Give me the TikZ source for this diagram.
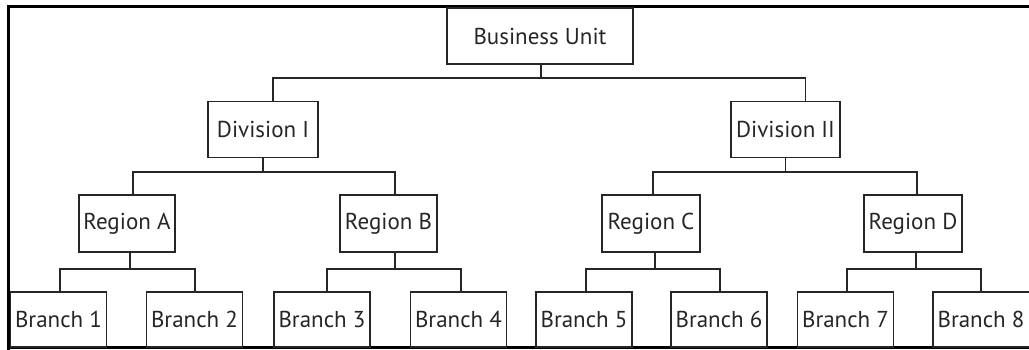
\documentclass[tikz,border=0pt]{standalone}
\usepackage{fontspec}
\setmainfont{PT Sans}
\begin{document}
\begin{tikzpicture}[x=1pt,y=-1pt,
  unitbox/.style={draw=black!85, line width=1.8pt, inner sep=0pt, align=center,
    font=\fontsize{23}{26}\selectfont, text=black!85},
  link/.style={draw=black!85, line width=1.8pt}]
\useasboundingbox[fill=white] (0,0) rectangle (1029,350);

% outer frame (left, top, bottom)
\draw[line width=3.2pt] (8.5,350) -- (8.5,6.5) -- (1029,6.5);
\draw[line width=3pt] (8.5,347) -- (1029,347);

% boxes
\node[unitbox, minimum width=186pt, minimum height=56pt] (bu) at (540,36) {Business Unit};
\node[unitbox, minimum width=110pt, minimum height=56pt] (d1) at (263,129.5) {Division I};
\node[unitbox, minimum width=109pt, minimum height=56pt] (d2) at (785.5,129.5) {Division II};

\node[unitbox, minimum width=96pt, minimum height=57pt] (ra) at (127,223.5) {Region A};
\node[unitbox, minimum width=97pt, minimum height=57pt] (rb) at (388.5,223.5) {Region B};
\node[unitbox, minimum width=98pt, minimum height=57pt] (rc) at (651,223.5) {Region C};
\node[unitbox, minimum width=98pt, minimum height=57pt] (rd) at (913,223.5) {Region D};

\foreach \n/\cx in {1/58.5, 2/194.5, 3/322, 4/458.5, 5/584, 6/719, 7/845.5}
  \node[unitbox, minimum width=96pt, minimum height=55pt] (b\n) at (\cx,319.5) {Branch \n};
% the last branch runs past the right edge of the sheet
\node[unitbox, minimum width=104pt, minimum height=55pt] (b8) at (985,319.5)
  {\makebox[96pt]{Branch 8}\hspace*{8pt}};

% connectors: business unit to divisions
\coordinate (j0) at ([xshift=1pt]bu.south |- 0,78);
\draw[link] (bu.south -| j0) -- (j0);
\draw[link] ([xshift=10pt]d1.north) |- (j0) -| ([xshift=20pt]d2.north);

% divisions to regions
\coordinate (j1) at (d1.south |- 0,172);
\coordinate (j2) at (d2.south |- 0,172);
\draw[link] (d1.south) -- (j1);
\draw[link] (d2.south) -- (j2);
\draw[link] ([xshift=6pt]ra.north) |- (j1) -| ([xshift=6.5pt]rb.north);
\draw[link] ([xshift=2pt]rc.north) |- (j2) -| ([xshift=4pt]rd.north);

% regions to branches
\coordinate (ja) at ([xshift=3pt]ra.south |- 0,269);
\coordinate (jb) at ([xshift=6.5pt]rb.south |- 0,269);
\coordinate (jc) at ([xshift=4pt]rc.south |- 0,269);
\coordinate (jd) at ([xshift=3pt]rd.south |- 0,269);
\draw[link] (ra.south -| ja) -- (ja);
\draw[link] (rb.south -| jb) -- (jb);
\draw[link] (rc.south -| jc) -- (jc);
\draw[link] (rd.south -| jd) -- (jd);
\draw[link] ([xshift=1.5pt]b1.north) |- (ja) -| ([xshift=0.5pt]b2.north);
\draw[link] ([xshift=5pt]b3.north) |- (jb) -| ([xshift=2.5pt]b4.north);
\draw[link] ([xshift=2pt]b5.north) |- (jc) -| ([xshift=1pt]b6.north);
\draw[link] ([xshift=1.5pt]b7.north) |- (jd) -| ([xshift=-4pt]b8.north);
\end{tikzpicture}
\end{document}
